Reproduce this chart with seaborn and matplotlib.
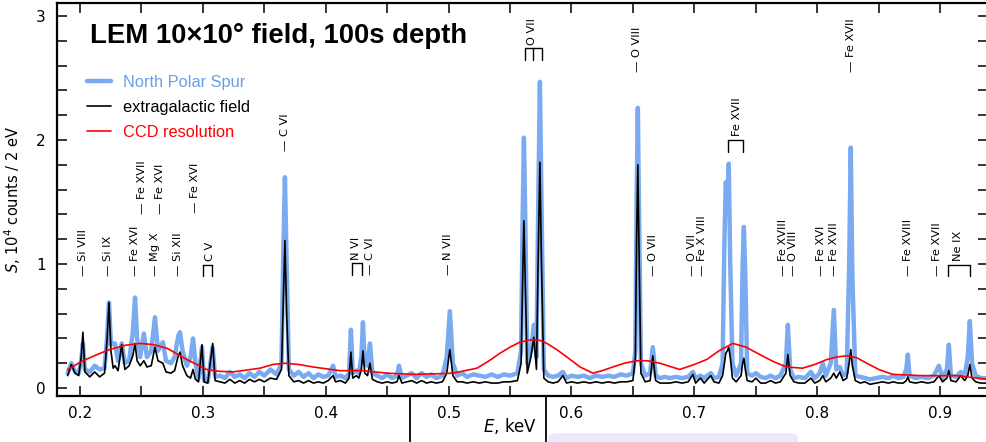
import matplotlib
matplotlib.use("Agg")
import matplotlib.pyplot as plt
import seaborn as sns
from matplotlib.ticker import MultipleLocator, FormatStrFormatter
from matplotlib.lines import Line2D
from matplotlib.patches import FancyBboxPatch

# spectra (keV, 10^4 counts / 2 eV)
energy = [
    0.1900, 0.1930, 0.1960, 0.1990, 0.2010, 0.2024, 0.2040, 0.2080, 0.2120, 0.2160,
    0.2200, 0.2220, 0.2236, 0.2252, 0.2270, 0.2285, 0.2310, 0.2340, 0.2365, 0.2400,
    0.2430, 0.2448, 0.2465, 0.2490, 0.2520, 0.2545, 0.2580, 0.2610, 0.2635, 0.2675,
    0.2700, 0.2740, 0.2770, 0.2800, 0.2814, 0.2835, 0.2870, 0.2900, 0.2920, 0.2940,
    0.2965, 0.2993, 0.3010, 0.3040, 0.3080, 0.3100, 0.3140, 0.3180, 0.3220, 0.3260,
    0.3300, 0.3340, 0.3380, 0.3420, 0.3460, 0.3500, 0.3550, 0.3600, 0.3640, 0.3655,
    0.3668, 0.3682, 0.3700, 0.3740, 0.3780, 0.3820, 0.3860, 0.3900, 0.3940, 0.3980,
    0.4020, 0.4060, 0.4080, 0.4120, 0.4160, 0.4190, 0.4205, 0.4220, 0.4250, 0.4270,
    0.4290, 0.4303, 0.4318, 0.4340, 0.4360, 0.4380, 0.4420, 0.4460, 0.4500, 0.4540,
    0.4580, 0.4596, 0.4620, 0.4660, 0.4700, 0.4740, 0.4780, 0.4820, 0.4860, 0.4900,
    0.4950, 0.4985, 0.5010, 0.5035, 0.5070, 0.5110, 0.5150, 0.5200, 0.5250, 0.5300,
    0.5350, 0.5400, 0.5450, 0.5500, 0.5560, 0.5590, 0.5603, 0.5613, 0.5625, 0.5640,
    0.5670, 0.5694, 0.5715, 0.5730, 0.5743, 0.5756, 0.5775, 0.5810, 0.5850, 0.5890,
    0.5930, 0.5960, 0.6000, 0.6050, 0.6100, 0.6150, 0.6200, 0.6250, 0.6300, 0.6350,
    0.6400, 0.6450, 0.6500, 0.6520, 0.6530, 0.6540, 0.6550, 0.6565, 0.6600, 0.6640,
    0.6662, 0.6685, 0.6720, 0.6760, 0.6800, 0.6850, 0.6900, 0.6950, 0.6988, 0.7010,
    0.7050, 0.7080, 0.7134, 0.7160, 0.7200, 0.7230, 0.7245, 0.7256, 0.7268, 0.7280,
    0.7292, 0.7310, 0.7340, 0.7380, 0.7393, 0.7403, 0.7415, 0.7430, 0.7470, 0.7500,
    0.7540, 0.7580, 0.7620, 0.7660, 0.7700, 0.7745, 0.7761, 0.7780, 0.7810, 0.7850,
    0.7900, 0.7948, 0.7980, 0.8020, 0.8045, 0.8070, 0.8110, 0.8135, 0.8155, 0.8184,
    0.8210, 0.8240, 0.8260, 0.8273, 0.8286, 0.8310, 0.8350, 0.8387, 0.8430, 0.8480,
    0.8530, 0.8580, 0.8620, 0.8660, 0.8700, 0.8725, 0.8737, 0.8752, 0.8800, 0.8850,
    0.8900, 0.8950, 0.8990, 0.9020, 0.9055, 0.9071, 0.9088, 0.9130, 0.9168, 0.9200,
    0.9225, 0.9242, 0.9260, 0.9290, 0.9330, 0.9390,
]
nps_counts = [
    0.12, 0.20, 0.13, 0.12, 0.22, 0.36, 0.15, 0.13, 0.18, 0.15,
    0.16, 0.40, 0.69, 0.35, 0.36, 0.36, 0.22, 0.36, 0.20, 0.22,
    0.45, 0.73, 0.40, 0.25, 0.44, 0.25, 0.30, 0.57, 0.30, 0.37,
    0.22, 0.20, 0.25, 0.42, 0.45, 0.30, 0.18, 0.25, 0.40, 0.20,
    0.08, 0.33, 0.06, 0.05, 0.33, 0.09, 0.10, 0.08, 0.13, 0.09,
    0.11, 0.08, 0.12, 0.09, 0.13, 0.10, 0.15, 0.11, 0.20, 1.10,
    1.70, 1.00, 0.15, 0.10, 0.13, 0.09, 0.12, 0.08, 0.11, 0.09,
    0.10, 0.18, 0.09, 0.10, 0.08, 0.12, 0.47, 0.12, 0.14, 0.12,
    0.25, 0.53, 0.20, 0.18, 0.36, 0.12, 0.10, 0.08, 0.11, 0.08,
    0.10, 0.18, 0.08, 0.10, 0.12, 0.08, 0.12, 0.09, 0.11, 0.08,
    0.10, 0.25, 0.62, 0.20, 0.10, 0.12, 0.09, 0.11, 0.10, 0.09,
    0.11, 0.09, 0.11, 0.10, 0.12, 0.30, 1.40, 2.02, 1.30, 0.20,
    0.30, 0.51, 0.25, 1.50, 2.47, 1.50, 0.15, 0.10, 0.09, 0.10,
    0.13, 0.08, 0.10, 0.09, 0.10, 0.08, 0.10, 0.09, 0.10, 0.09,
    0.11, 0.10, 0.12, 0.30, 1.50, 2.26, 1.40, 0.20, 0.10, 0.12,
    0.33, 0.10, 0.08, 0.09, 0.08, 0.09, 0.08, 0.09, 0.13, 0.08,
    0.10, 0.08, 0.12, 0.08, 0.09, 0.20, 1.20, 1.66, 1.50, 1.81,
    1.00, 0.20, 0.10, 0.20, 1.00, 1.30, 0.90, 0.12, 0.10, 0.12,
    0.09, 0.08, 0.10, 0.08, 0.10, 0.20, 0.51, 0.15, 0.08, 0.09,
    0.08, 0.13, 0.08, 0.12, 0.20, 0.10, 0.20, 0.63, 0.15, 0.17,
    0.10, 0.12, 1.00, 1.94, 0.90, 0.10, 0.09, 0.08, 0.07, 0.08,
    0.09, 0.08, 0.10, 0.08, 0.09, 0.15, 0.27, 0.10, 0.08, 0.09,
    0.08, 0.10, 0.18, 0.08, 0.15, 0.35, 0.10, 0.09, 0.13, 0.10,
    0.25, 0.54, 0.20, 0.10, 0.08, 0.08,
]
egf_counts = [
    0.10, 0.19, 0.12, 0.10, 0.25, 0.45, 0.13, 0.09, 0.13, 0.09,
    0.12, 0.38, 0.69, 0.30, 0.16, 0.18, 0.14, 0.35, 0.15, 0.18,
    0.26, 0.36, 0.22, 0.18, 0.22, 0.17, 0.18, 0.33, 0.22, 0.20,
    0.13, 0.12, 0.14, 0.26, 0.29, 0.18, 0.10, 0.08, 0.15, 0.07,
    0.05, 0.35, 0.05, 0.04, 0.36, 0.06, 0.05, 0.04, 0.07, 0.04,
    0.06, 0.04, 0.07, 0.05, 0.07, 0.05, 0.08, 0.07, 0.15, 0.70,
    1.19, 0.60, 0.10, 0.05, 0.06, 0.04, 0.06, 0.04, 0.05, 0.04,
    0.06, 0.10, 0.05, 0.06, 0.04, 0.08, 0.29, 0.08, 0.10, 0.08,
    0.15, 0.30, 0.12, 0.10, 0.20, 0.07, 0.05, 0.04, 0.05, 0.04,
    0.05, 0.10, 0.04, 0.05, 0.06, 0.04, 0.06, 0.04, 0.05, 0.04,
    0.05, 0.12, 0.31, 0.10, 0.05, 0.05, 0.04, 0.05, 0.04, 0.05,
    0.04, 0.04, 0.05, 0.05, 0.06, 0.20, 0.90, 1.35, 0.80, 0.12,
    0.25, 0.41, 0.15, 1.10, 1.82, 1.00, 0.08, 0.05, 0.04, 0.05,
    0.10, 0.04, 0.05, 0.04, 0.05, 0.04, 0.05, 0.04, 0.05, 0.04,
    0.05, 0.05, 0.06, 0.25, 1.20, 1.80, 1.10, 0.12, 0.05, 0.06,
    0.26, 0.06, 0.04, 0.04, 0.04, 0.05, 0.04, 0.05, 0.11, 0.04,
    0.08, 0.04, 0.10, 0.05, 0.04, 0.10, 0.20, 0.28, 0.30, 0.33,
    0.25, 0.08, 0.05, 0.10, 0.20, 0.24, 0.15, 0.06, 0.05, 0.08,
    0.04, 0.04, 0.06, 0.04, 0.05, 0.12, 0.27, 0.10, 0.05, 0.04,
    0.04, 0.08, 0.04, 0.06, 0.10, 0.05, 0.08, 0.12, 0.08, 0.13,
    0.06, 0.08, 0.20, 0.31, 0.18, 0.06, 0.04, 0.05, 0.03, 0.04,
    0.05, 0.04, 0.05, 0.04, 0.04, 0.06, 0.09, 0.05, 0.04, 0.05,
    0.04, 0.05, 0.10, 0.05, 0.08, 0.14, 0.06, 0.05, 0.10, 0.06,
    0.10, 0.19, 0.08, 0.05, 0.04, 0.04,
]

# CCD resolution curve
ccd_energy = [
    0.190, 0.2024, 0.214, 0.224, 0.237, 0.249, 0.260, 0.271, 0.287, 0.295,
    0.303, 0.313, 0.3245, 0.3465, 0.357, 0.3668, 0.378, 0.3896, 0.4116, 0.430,
    0.450, 0.471, 0.4900, 0.5035, 0.523, 0.533, 0.5417, 0.550, 0.558, 0.5678,
    0.574, 0.580, 0.588, 0.5963, 0.607, 0.6174, 0.625, 0.6337, 0.643, 0.6532,
    0.662, 0.672, 0.688, 0.700, 0.710, 0.720, 0.7313, 0.742, 0.7533, 0.765,
    0.775, 0.788, 0.798, 0.8078, 0.816, 0.824, 0.832, 0.8404, 0.850, 0.8615,
    0.886, 0.9136, 0.939,
]
ccd_counts = [
    0.15, 0.22, 0.27, 0.31, 0.345, 0.36, 0.35, 0.32, 0.23, 0.19,
    0.15, 0.135, 0.13, 0.16, 0.19, 0.20, 0.19, 0.17, 0.14, 0.14,
    0.12, 0.11, 0.115, 0.12, 0.16, 0.22, 0.28, 0.33, 0.37, 0.39,
    0.385, 0.36, 0.31, 0.25, 0.17, 0.12, 0.14, 0.17, 0.20, 0.22,
    0.22, 0.20, 0.15, 0.19, 0.23, 0.30, 0.36, 0.33, 0.27, 0.21,
    0.17, 0.16, 0.19, 0.23, 0.25, 0.26, 0.245, 0.20, 0.15, 0.11,
    0.10, 0.10, 0.07,
]

# line identifications: label, energy (keV), level
ion_labels = ["Si VIII", "Si IX", "Fe XVI", "Mg X", "Si XII", "Fe XVII", "Fe XVI",
              "Fe XVI", "C VI", "C VI", "N VII", "O VIII", "Fe XVII", "O VII", "O VII",
              "Fe X VIII", "Fe XVIII", "O VIII", "Fe XVI", "Fe XVII", "Fe XVIII", "Fe XVII"]
ion_energy = [0.2027, 0.2230, 0.2448, 0.2610, 0.2800, 0.2502, 0.2651,
              0.2936, 0.3668, 0.4360, 0.4994, 0.6530, 0.8273, 0.6665, 0.6980,
              0.7064, 0.7718, 0.7804, 0.8027, 0.8135, 0.8740, 0.8971]
ion_level = [0.90, 0.90, 0.90, 0.90, 0.90, 1.40, 1.40,
             1.41, 1.91, 0.91, 0.91, 2.55, 2.55, 0.90, 0.90,
             0.90, 0.90, 0.90, 0.90, 0.90, 0.90, 0.90]

# blended lines marked with a bracket
blend_labels = ["C V", "N VI", "O VII", "Fe XVII", "Ne IX"]
blend_energies = [[0.3003, 0.3072], [0.4211, 0.4292], [0.5621, 0.5686, 0.5757],
                  [0.7273, 0.7395], [0.9063, 0.9242]]
blend_text_x = [0.3055, 0.4246, 0.5678, 0.7346, 0.9144]
blend_level = [0.90, 0.91, 2.645, 1.906, 0.90]

sns.set_theme(style="ticks", rc={"text.color": "black", "axes.labelcolor": "black",
                                 "xtick.color": "black", "ytick.color": "black",
                                 "axes.edgecolor": "black"})
plt.rcParams["font.family"] = ["DejaVu Sans"]
arial = ["Liberation Sans", "DejaVu Sans"]

fig = plt.figure(figsize=(9.86, 4.42), dpi=100)
ax = fig.add_axes([0.0578, 0.104, 0.944, 0.889])

sns.lineplot(x=energy, y=nps_counts, ax=ax, color="#7aaaf0", lw=3.2,
             estimator=None, sort=False, label="North Polar Spur")
sns.lineplot(x=energy, y=egf_counts, ax=ax, color="black", lw=1.2,
             estimator=None, sort=False, label="extragalactic field")
sns.lineplot(x=ccd_energy, y=ccd_counts, ax=ax, color="red", lw=1.2,
             estimator=None, sort=False, label="CCD resolution")

ax.set_xlim(0.1813, 0.9388)
ax.set_ylim(-0.0645, 3.105)

ax.xaxis.set_major_locator(MultipleLocator(0.1))
ax.xaxis.set_minor_locator(MultipleLocator(0.05))
ax.xaxis.set_major_formatter(FormatStrFormatter("%.1f"))
ax.yaxis.set_major_locator(MultipleLocator(1))
ax.yaxis.set_minor_locator(MultipleLocator(0.2))
ax.tick_params(which="both", direction="in", top=True, right=True, length=7, width=1.1)
ax.tick_params(axis="x", pad=7, labelsize=11)
ax.tick_params(axis="y", pad=8, labelsize=11)
for sp in ax.spines.values():
    sp.set_linewidth(1.6)

ax.set_ylabel(r"$S$, 10$^4$ counts / 2 eV", fontsize=10.5)
ax.yaxis.set_label_coords(-0.037, 0.5)
ax.set_xlabel(r"$E$, keV", fontsize=12)
ax.xaxis.set_label_coords(0.487, -0.052)

ax.text(0.035, 0.916, "LEM 10×10° field, 100s depth", transform=ax.transAxes,
        fontsize=19.8, fontweight="bold", family=arial, color="black",
        va="center", ha="left")

leg = ax.legend(loc="upper left", bbox_to_anchor=(0.032, 0.818), frameon=False,
                handlelength=1.45, handletextpad=0.75, labelspacing=0.62,
                borderpad=0, borderaxespad=0, prop={"family": arial, "size": 11.8})
for txt, col in zip(leg.get_texts(), ["#6a9ee8", "black", "red"]):
    txt.set_color(col)

for lab, e, lev in zip(ion_labels, ion_energy, ion_level):
    ax.text(e, lev, "— " + lab, rotation=90, ha="center", va="bottom",
            fontsize=8.2, color="black")

for lab, es, x, lev in zip(blend_labels, blend_energies, blend_text_x, blend_level):
    top = lev + 0.095
    ax.plot([es[0], es[-1]], [top, top], color="black", lw=1)
    for e in es:
        ax.plot([e, e], [lev, top], color="black", lw=1)
    ax.text(x, top + 0.03, lab, rotation=90, ha="center", va="bottom",
            fontsize=8.2, color="black")

# stray marks along the bottom edge of the picture
for xf in [410 / 986, 546 / 986]:
    fig.add_artist(Line2D([xf, xf], [0, 0.104], color="black", lw=1.3))
fig.add_artist(FancyBboxPatch((548 / 986, -0.02), 250 / 986, 0.04,
                              boxstyle="round,pad=0,rounding_size=0.01",
                              color="#ece8fb", lw=0))

fig.savefig("out.png", dpi=100)
